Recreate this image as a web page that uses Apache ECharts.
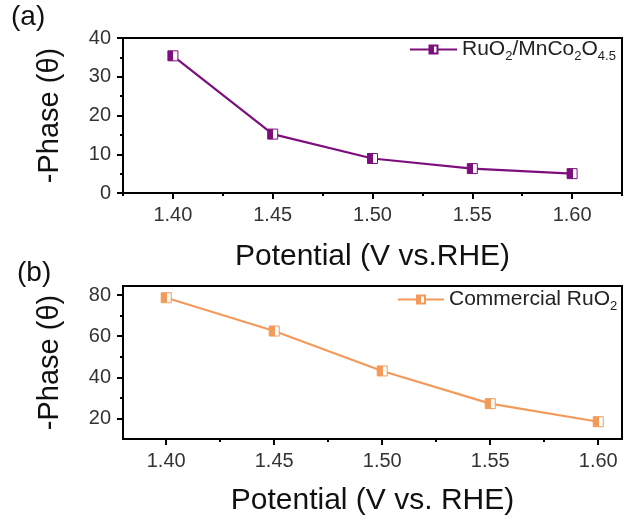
<!DOCTYPE html>
<html lang="en">
<head>
    <meta charset="UTF-8">
    <title>Phase vs potential</title>
    <script src="https://cdn.jsdelivr.net/npm/echarts@6/dist/echarts.min.js"></script>
    <style>
        html, body { margin: 0; padding: 0; background: #fff; }
    </style>
</head>
<body>
<div id="main" style="width:627px; height:521px;"></div>
<script>
    // data
    var potential = [1.40, 1.45, 1.50, 1.55, 1.60];
    var phaseA = [35.4, 15.2, 8.9, 6.3, 5.0];     // RuO2/MnCo2O4.5
    var phaseB = [78.7, 62.5, 43.1, 27.2, 18.4];  // Commercial RuO2

    var xTicks = [1.40, 1.45, 1.50, 1.55, 1.60];
    var xMinorTicks = [1.375, 1.425, 1.475, 1.525, 1.575, 1.625];
    var yTicksA = [0, 10, 20, 30, 40];
    var yMinorA = [5, 15, 25, 35];
    var yTicksB = [20, 40, 60, 80];
    var yMinorB = [30, 50, 70];

    var font = 'Liberation Sans, Arial, sans-serif';
    var purple = '#7d0f7d';
    var orange = '#f39a5b';

    function pairs(xs, ys) {
        return xs.map(function (x, i) { return [x, ys[i]]; });
    }

    // square marker, left part filled, right part white
    function halfFill(c) {
        return {
            type: 'linear', x: 0, y: 0, x2: 1, y2: 0,
            colorStops: [
                {offset: 0, color: c}, {offset: 0.55, color: c},
                {offset: 0.55, color: '#fff'}, {offset: 1, color: '#fff'}
            ]
        };
    }

    function mainX(grid, min, max, name, gap) {
        return {
            gridIndex: grid, type: 'value', min: min, max: max,
            axisLine: {lineStyle: {color: '#000', width: 2}},
            axisTick: {customValues: xTicks, length: 6, lineStyle: {color: '#000', width: 2}},
            axisLabel: {customValues: xTicks, formatter: function (v) { return v.toFixed(2); },
                fontSize: 20, color: '#333', margin: 12, fontFamily: font},
            splitLine: {show: false},
            name: name, nameLocation: 'middle', nameGap: gap,
            nameTextStyle: {fontSize: 30, color: '#111', fontFamily: font}
        };
    }
    function minorX(grid, min, max) {
        return {
            gridIndex: grid, type: 'value', min: min, max: max, position: 'bottom',
            axisLine: {show: false},
            axisTick: {customValues: xMinorTicks, length: 3, lineStyle: {color: '#000', width: 2}},
            axisLabel: {show: false}, splitLine: {show: false}
        };
    }
    function mainY(grid, min, max, ticks, gap) {
        return {
            gridIndex: grid, type: 'value', min: min, max: max,
            axisLine: {lineStyle: {color: '#000', width: 2}},
            axisTick: {customValues: ticks, length: 6, lineStyle: {color: '#000', width: 2}},
            axisLabel: {customValues: ticks, fontSize: 20, color: '#333', margin: 12, fontFamily: font},
            splitLine: {show: false},
            name: '-Phase (θ)', nameLocation: 'middle', nameGap: gap,
            nameTextStyle: {fontSize: 29, color: '#111', fontFamily: font}
        };
    }
    function minorY(grid, min, max, ticks) {
        return {
            gridIndex: grid, type: 'value', min: min, max: max, position: 'left',
            axisLine: {show: false},
            axisTick: {customValues: ticks, length: 3, lineStyle: {color: '#000', width: 2}},
            axisLabel: {show: false}, splitLine: {show: false}
        };
    }

    var legendRich = {
        n: {fontSize: 21, lineHeight: 26, color: '#222', fontFamily: font},
        s: {fontSize: 13, lineHeight: 13, verticalAlign: 'bottom', color: '#222', fontFamily: font}
    };

    var myChart = echarts.init(document.getElementById('main'));
    var option = {
        animation: false,
        title: [
            {text: '(a)', left: 11, top: 3, padding: 0, textStyle: {fontSize: 28, fontWeight: 'normal', color: '#111', fontFamily: font}},
            {text: '(b)', left: 17, top: 259, padding: 0, textStyle: {fontSize: 28, fontWeight: 'normal', color: '#111', fontFamily: font}}
        ],
        grid: [
            {left: 123, top: 38, right: 5, height: 155, show: true, borderColor: '#000', borderWidth: 2},
            {left: 123, top: 286, right: 5, height: 153, show: true, borderColor: '#000', borderWidth: 2}
        ],
        legend: [
            {data: ['RuO2/MnCo2O4.5'], left: 409, top: 39, padding: 0, itemWidth: 47, itemHeight: 10,
                formatter: function () { return '{n|RuO}{s|2}{n|/MnCo}{s|2}{n|O}{s|4.5}'; },
                textStyle: {rich: legendRich}},
            {data: ['Commercial RuO2'], left: 397, top: 289, padding: 0, itemWidth: 46, itemHeight: 10,
                formatter: function () { return '{n|Commercial RuO}{s|2}'; },
                textStyle: {rich: legendRich}}
        ],
        xAxis: [
            mainX(0, 1.375, 1.625, 'Potential (V vs.RHE)', 49),
            minorX(0, 1.375, 1.625),
            mainX(1, 1.38, 1.611, 'Potential (V vs. RHE)', 47),
            minorX(1, 1.38, 1.611)
        ],
        yAxis: [
            mainY(0, 0, 40, yTicksA, 59),
            minorY(0, 0, 40, yMinorA),
            mainY(1, 10, 84.4, yTicksB, 59),
            minorY(1, 10, 84.4, yMinorB)
        ],
        series: [
            {
                name: 'RuO2/MnCo2O4.5', type: 'line', xAxisIndex: 0, yAxisIndex: 0,
                data: pairs(potential, phaseA),
                symbol: 'rect', symbolSize: 10,
                lineStyle: {color: purple, width: 2.2},
                itemStyle: {color: halfFill(purple), borderColor: purple, borderWidth: 1}
            },
            {
                name: 'Commercial RuO2', type: 'line', xAxisIndex: 2, yAxisIndex: 2,
                data: pairs(potential, phaseB),
                symbol: 'rect', symbolSize: 10,
                lineStyle: {color: orange, width: 2.2},
                itemStyle: {color: halfFill(orange), borderColor: orange, borderWidth: 1}
            }
        ]
    };
    myChart.setOption(option);
</script>
</body>
</html>
